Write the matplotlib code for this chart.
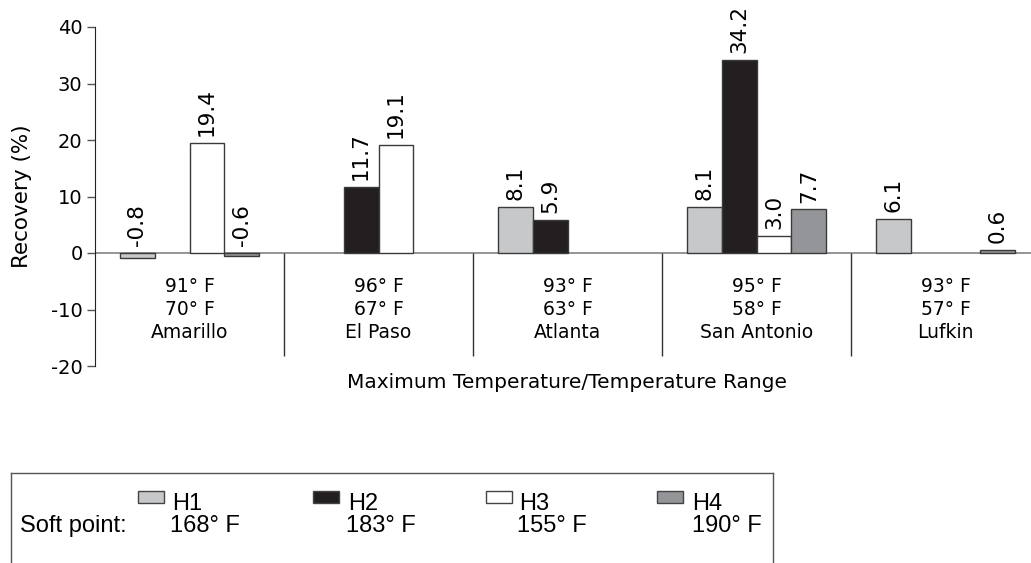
import numpy as np
import matplotlib
matplotlib.use("Agg")
import matplotlib.pyplot as plt
from matplotlib.patches import Rectangle
from matplotlib.lines import Line2D

plt.rcParams["axes.unicode_minus"] = False
nan = np.nan

# data
cities = ["Amarillo", "El Paso", "Atlanta", "San Antonio", "Lufkin"]
max_temp = ["91° F", "96° F", "93° F", "95° F", "93° F"]
temp_range = ["70° F", "67° F", "63° F", "58° F", "57° F"]
h1 = [-0.8, nan, 8.1, 8.1, 6.1]
h2 = [nan, 11.7, 5.9, 34.2, nan]
h3 = [19.4, 19.1, nan, 3.0, nan]
h4 = [-0.6, nan, nan, 7.7, 0.6]
series_names = ["H1", "H2", "H3", "H4"]
soft_points = ["168° F", "183° F", "155° F", "190° F"]
yticks = [-20, -10, 0, 10, 20, 30, 40]

colors = ["#c7c8ca", "#231f20", "#ffffff", "#939598"]
W, H = 1031, 563

def fx(px):
    return px / W

def fy(py):
    return 1 - py / H

fig = plt.figure(figsize=(W / 100, H / 100), dpi=100)
ax = fig.add_axes([fx(95), fy(366), (1040 - 95) / W, 339 / H])

x = np.arange(len(cities))
bw = 0.185
for k, vals in enumerate([h1, h2, h3, h4]):
    xs = x + (k - 1.5) * bw
    v = np.array(vals, dtype=float)
    ok = ~np.isnan(v)
    ax.bar(xs[ok], v[ok], width=bw, color=colors[k], edgecolor="#3a3a3a",
           linewidth=1.0, zorder=3)
    for xi, vi in zip(xs[ok], v[ok]):
        ax.annotate(f"{vi:.1f}", (xi, max(vi, 0)), xytext=(0, 5),
                    textcoords="offset points", rotation=90, ha="center",
                    va="bottom", fontsize=15.5)

ax.axhline(0, color="#8c8c8c", lw=1.3, zorder=2)
ax.vlines(x[:-1] + 0.5, -18.2, 0, color="#333333", lw=1.0)

for i in x:
    ax.text(i, -6.9, max_temp[i], ha="center", va="baseline", fontsize=13.5)
    ax.text(i, -10.97, temp_range[i], ha="center", va="baseline", fontsize=13.5)
    ax.text(i, -15.04, cities[i], ha="center", va="baseline", fontsize=13.5)

ax.set_xlim(-0.5, 4.5)
ax.set_ylim(-20, 40)
ax.set_yticks(yticks)
ax.set_xticks([])
for s in ["top", "right", "bottom"]:
    ax.spines[s].set_visible(False)
ax.spines["left"].set_color("#222222")
ax.tick_params(axis="y", direction="out", length=6, width=1, color="#555555",
               labelsize=14, pad=3)

fig.text(fx(22), fy(196), "Recovery (%)", rotation=90, ha="center",
         va="center", fontsize=15.5)
fig.text(fx(567), fy(383), "Maximum Temperature/Temperature Range",
         ha="center", va="center", fontsize=14.5)

# legend box (bottom runs off the figure)
box_col = "#555555"
fig.add_artist(Line2D([fx(11), fx(11)], [fy(473), fy(570)], color=box_col, lw=1))
fig.add_artist(Line2D([fx(773), fx(773)], [fy(473), fy(570)], color=box_col, lw=1))
fig.add_artist(Line2D([fx(11), fx(773)], [fy(473), fy(473)], color=box_col, lw=1))

lfont = dict(family="Liberation Sans", fontsize=17)
patch_x = [138, 313, 486, 657]
text_x = [172, 348, 519, 692]
for k in range(4):
    fig.add_artist(Rectangle((fx(patch_x[k]), fy(503)), 26 / W, 12 / H,
                             transform=fig.transFigure, facecolor=colors[k],
                             edgecolor="#444444", lw=1))
    fig.text(fx(text_x[k]), fy(510), series_names[k], ha="left",
             va="baseline", **lfont)
soft_right = [240, 416, 587, 762]
for k in range(4):
    fig.text(fx(soft_right[k]), fy(532), soft_points[k], ha="right",
             va="baseline", **lfont)
fig.text(fx(20), fy(532), "Soft point:", ha="left", va="baseline", **lfont)

fig.savefig("out.png", dpi=100)
